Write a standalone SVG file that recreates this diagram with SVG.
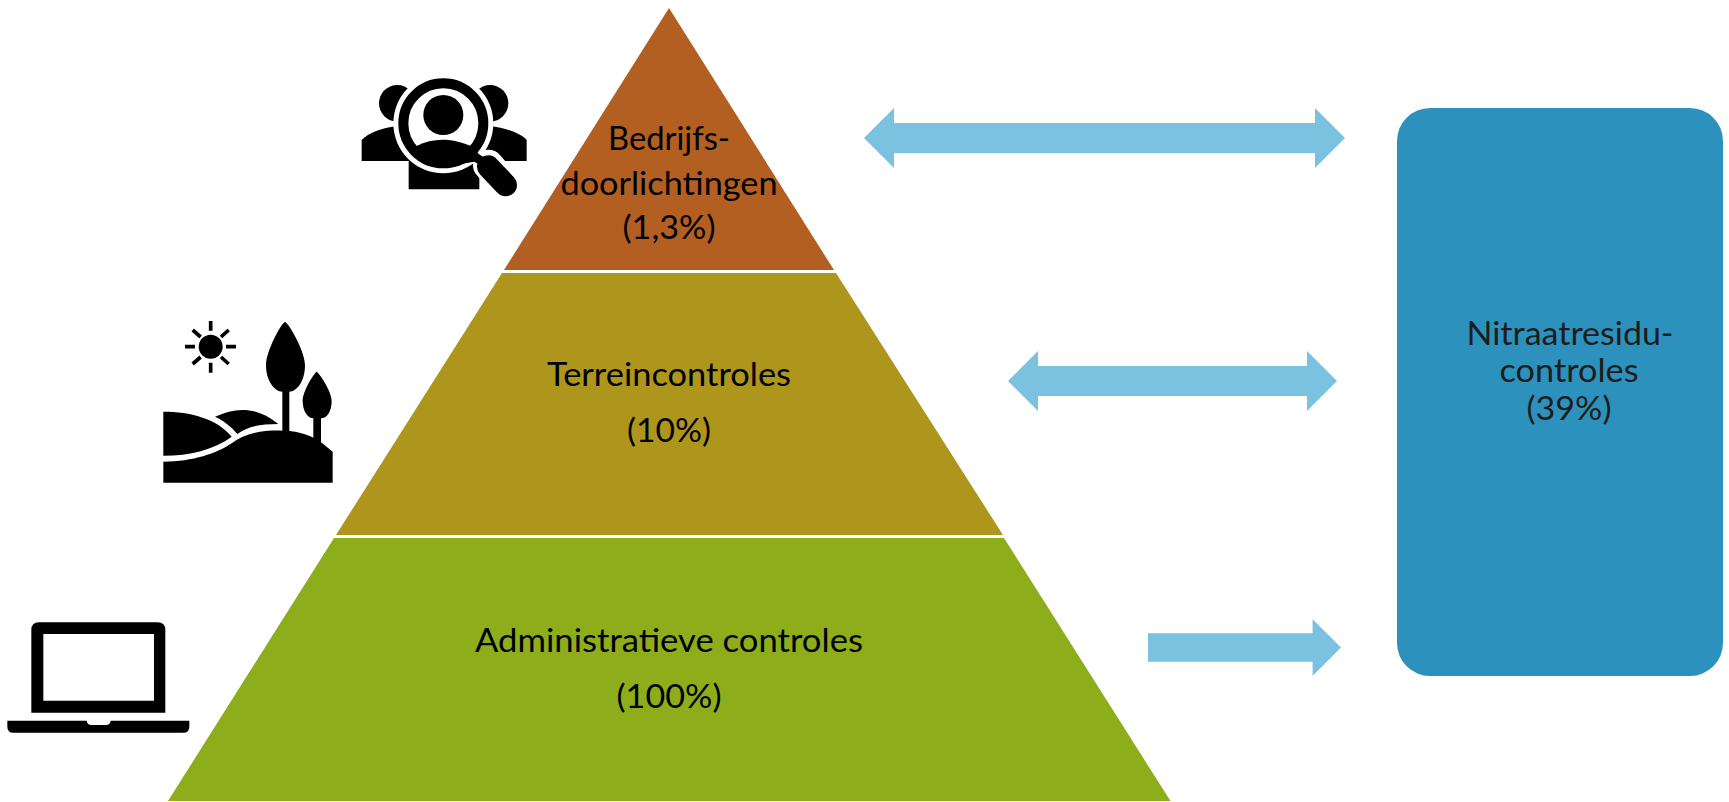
<svg xmlns="http://www.w3.org/2000/svg" width="1729" height="802" viewBox="0 0 1729 802">
<style>
text{font-family:"Lato","Carlito","Open Sans",sans-serif;font-size:33px;fill:#000;text-anchor:middle}
.dark{fill:#1d1d1b}
.arrow{fill:#7bc1e0}
</style>
<rect width="1729" height="802" fill="#fff"/>
<g id="connectors">
<path class="arrow" d="M864 138 L894 108 V123 H1315 V108 L1345 138 L1315 168 V153 H894 V168 Z"/>
<path class="arrow" d="M1008 381 L1038 351 V366 H1307 V351 L1337 381 L1307 411 V396 H1038 V411 Z"/>
<path class="arrow" d="M1148 633.3 H1312.6 V619.3 L1341 647.5 L1312.6 676 V661.700 H1148 Z"/>
</g>
<g id="tier-top">
<path fill="#b35f21" d="M669 8 L834 270 H504 Z"/>
<text x="669" y="150" textLength="122" lengthAdjust="spacingAndGlyphs">Bedrijfs-</text>
<text x="669" y="195" textLength="217" lengthAdjust="spacingAndGlyphs">doorlichtingen</text>
<text x="669" y="239" textLength="93" lengthAdjust="spacingAndGlyphs">(1,3%)</text>
</g>
<g id="tier-middle">
<path fill="#ae951b" d="M502 273 H836 L1003 535 H336 Z"/>
<text x="669" y="385.500" textLength="244" lengthAdjust="spacingAndGlyphs">Terreincontroles</text>
<text x="669" y="441.500" textLength="84" lengthAdjust="spacingAndGlyphs">(10%)</text>
</g>
<g id="tier-bottom">
<path fill="#8dad1b" d="M334 538 H1004 L1170.500 801 H168 Z"/>
<text x="669" y="651.500" textLength="388" lengthAdjust="spacingAndGlyphs">Administratieve controles</text>
<text x="669" y="708" textLength="105" lengthAdjust="spacingAndGlyphs">(100%)</text>
</g>
<g id="nitraat">
<rect x="1397" y="108" width="326" height="568" rx="33" ry="33" fill="#2c91bd"/>
<text class="dark" x="1570" y="345" textLength="207" lengthAdjust="spacingAndGlyphs">Nitraatresidu-</text>
<text class="dark" x="1569" y="382" textLength="139" lengthAdjust="spacingAndGlyphs">controles</text>
<text class="dark" x="1569" y="420" textLength="85" lengthAdjust="spacingAndGlyphs">(39%)</text>
</g>
<g id="icon-people" transform="translate(340 60) scale(.33333)">
<circle cx="172" cy="130" r="55"/>
<circle cx="450" cy="130" r="55"/>
<path d="M65 303 V240 C85 218 125 204 170 198 H450 C495 204 540 218 560 240 V303 Z"/>
<path d="M206 388 V300 H418 V388 Z"/>
<circle cx="310" cy="190" r="150" fill="#fff"/>
<path d="M445 315 L497 375" stroke="#fff" stroke-width="92" stroke-linecap="round" fill="none"/>
<circle cx="310" cy="190" r="120" fill="#fff" stroke="#000" stroke-width="30"/>
<circle cx="310" cy="165" r="60"/>
<path d="M230 258 C280 232 340 232 400 262 L430 300 L320 320 L240 290 Z"/>
<path d="M395 285 L445 315" stroke="#000" stroke-width="26" fill="none"/>
<path d="M445 320 L497 375" stroke="#000" stroke-width="68" stroke-linecap="round" fill="none"/>
</g>
<g id="icon-landscape" transform="translate(150 310) scale(.33333)">
<circle cx="182" cy="110" r="36"/>
<path stroke="#000" stroke-width="11" fill="none" d="M182 33 V62 M182 158 V188 M105 110 H135 M228 110 H258 M128 60 L152 81 M236 60 L213 81 M128 162 L152 141 M236 162 L213 141"/>
<path d="M405 35 C390 45 348 125 348 165 C348 215 375 245 397 245 V370 H418 V245 C440 245 465 215 465 165 C465 125 420 45 405 35 Z"/>
<path d="M500 185 C490 192 458 245 458 272 C458 305 475 325 490 325 V400 H513 V325 C530 325 545 305 545 272 C545 245 510 192 500 185 Z"/>
<path d="M40 305 C120 305 200 325 245 380 C190 420 120 437 40 437 Z"/>
<path d="M195 320 C260 290 320 290 385 342 C330 342 290 350 262 372 C245 350 220 332 195 320 Z"/>
<path d="M40 455 C130 455 200 430 245 400 C290 365 350 360 400 362 C450 362 490 380 515 398 L548 425 V518 H40 Z"/>
</g>
<g id="icon-laptop" transform="translate(0 610) scale(.33333)">
<path fill-rule="evenodd" d="M94 308 V60 Q94 37 117 37 H473 Q496 37 496 60 V308 Z M130 72 V272 H462 V72 Z"/>
<path d="M22 332 H260 Q262 345 275 345 H318 Q330 345 332 332 H568 V350 Q568 368 550 368 H40 Q22 368 22 350 Z"/>
</g>
</svg>
